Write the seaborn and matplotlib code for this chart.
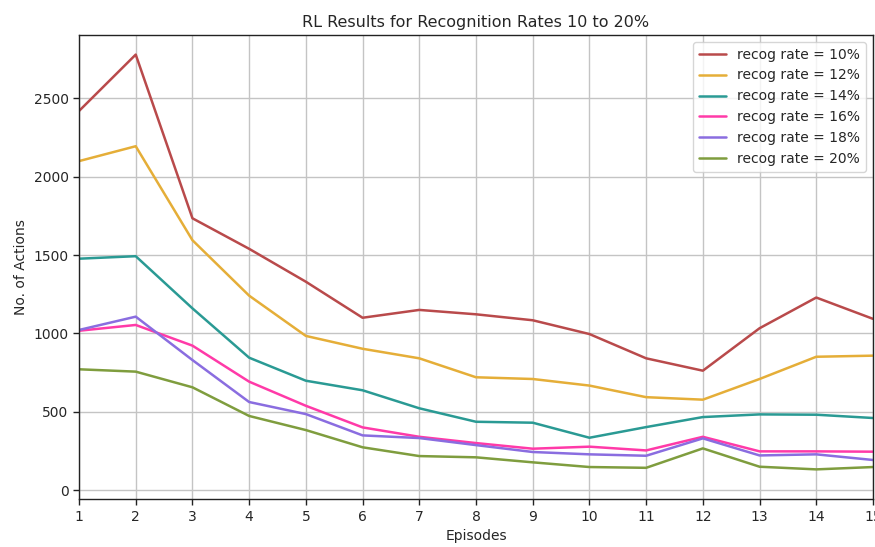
import numpy as np
import pandas as pd
import matplotlib
matplotlib.use("Agg")
import matplotlib.pyplot as plt
import seaborn as sns

episodes = list(range(1, 16))

rate_10 = [2420, 2780, 1735, 1540, 1330, 1100, 1150, 1122, 1084, 996, 841, 762, 1033, 1229, 1093]
rate_12 = [2100, 2195, 1595, 1241, 984, 902, 841, 720, 709, 667, 593, 577, 709, 851, 858]
rate_14 = [1477, 1493, 1160, 845, 698, 637, 522, 436, 430, 334, 402, 466, 483, 481, 460]
rate_16 = [1017, 1054, 922, 692, 538, 400, 340, 300, 264, 277, 253, 340, 247, 247, 245]
rate_18 = [1022, 1107, 830, 562, 485, 349, 332, 287, 243, 228, 219, 330, 221, 228, 192]
rate_20 = [771, 756, 656, 473, 383, 273, 217, 209, 177, 147, 142, 266, 149, 132, 147]

series_labels = ["recog rate = 10%", "recog rate = 12%", "recog rate = 14%",
                 "recog rate = 16%", "recog rate = 18%", "recog rate = 20%"]
series_values = [rate_10, rate_12, rate_14, rate_16, rate_18, rate_20]
colors = ["#b94a4b", "#e5ae38", "#2a9a94", "#ff3aa8", "#8a6de0", "#7f9d3e"]

rows = []
for label, vals in zip(series_labels, series_values):
    for ep, v in zip(episodes, vals):
        rows.append({"Episodes": ep, "No. of Actions": v, "series": label})
df = pd.DataFrame(rows)

sns.set_style("whitegrid", {"grid.color": "#c4c4c4", "axes.edgecolor": "#222222"})
plt.rcParams['font.family'] = ['DejaVu Sans']

fig = plt.figure(figsize=(8.75, 5.47), dpi=100)
ax = fig.add_axes([0.0903, 0.0872, 0.9074, 0.8488])

sns.lineplot(data=df, x="Episodes", y="No. of Actions", hue="series",
             palette=colors, linewidth=1.8, ax=ax)

ax.set_xlim(1, 15)
ax.set_ylim(-59, 2905)
ax.set_xticks(episodes)
ax.set_yticks([0, 500, 1000, 1500, 2000, 2500])
ax.grid(True, color="#c4c4c4", linewidth=1.0)
for s in ax.spines.values():
    s.set_color("#222222")
    s.set_linewidth(1.0)
ax.tick_params(axis="both", which="both", direction="out", length=4, width=1,
               color="#222222", labelsize=10, bottom=True, left=True)
ax.set_title("RL Results for Recognition Rates 10 to 20%", fontsize=11.5)
ax.set_xlabel("Episodes", fontsize=10)
ax.set_ylabel("No. of Actions", fontsize=10)
ax.legend(loc="upper right", fontsize=10, frameon=True)

fig.savefig("out.png", dpi=100)
